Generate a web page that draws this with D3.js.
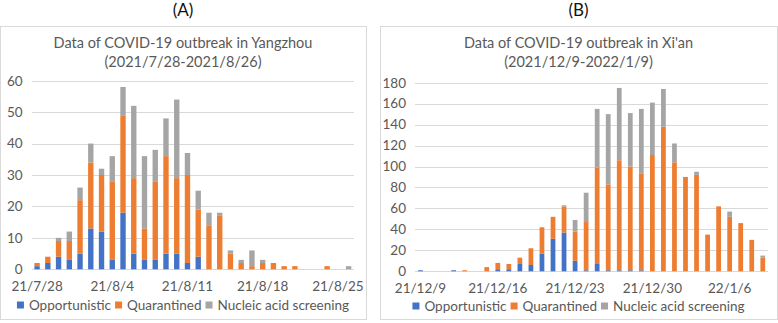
<!DOCTYPE html>
<html><head><meta charset="utf-8">
<script src="https://cdn.jsdelivr.net/npm/d3@7"></script>
<style>
html,body{margin:0;padding:0;background:#fff;}
text{font-family:Lato,"Open Sans",sans-serif;}
</style></head>
<body>
<svg id="chart" width="778" height="323"></svg>
<script>
// ---------- Data ----------
const seriesNames = ["Opportunistic", "Quarantined", "Nucleic acid screening"];
const seriesColors = ["#4472C4", "#ED7D31", "#A5A5A5"];

const datesA = ["21/7/28","21/7/29","21/7/30","21/7/31","21/8/1","21/8/2","21/8/3","21/8/4","21/8/5","21/8/6",
  "21/8/7","21/8/8","21/8/9","21/8/10","21/8/11","21/8/12","21/8/13","21/8/14","21/8/15","21/8/16",
  "21/8/17","21/8/18","21/8/19","21/8/20","21/8/21","21/8/22","21/8/23","21/8/24","21/8/25","21/8/26"];
const opportunisticA = [1,2,4,3,5,13,12,3,18,5,3,3,5,5,2,4,0,0,0,0,0,0,0,0,0,0,0,0,0,0];
const quarantinedA   = [1,2,5,6,17,21,18,25,31,24,10,25,31,24,28,15,14,17,5,2,1,2,2,1,1,0,0,1,0,0];
const nucleicA       = [0,0,1,3,4,6,2,8,9,23,23,10,12,25,7,6,4,1,1,1,5,1,0,0,0,0,0,0,0,1];
const yTicksA = [0,10,20,30,40,50,60];
const xTickLabelsA = ["21/7/28","21/8/4","21/8/11","21/8/18","21/8/25"];

const datesB = ["21/12/9","21/12/10","21/12/11","21/12/12","21/12/13","21/12/14","21/12/15","21/12/16",
  "21/12/17","21/12/18","21/12/19","21/12/20","21/12/21","21/12/22","21/12/23","21/12/24","21/12/25",
  "21/12/26","21/12/27","21/12/28","21/12/29","21/12/30","21/12/31","22/1/1","22/1/2","22/1/3","22/1/4",
  "22/1/5","22/1/6","22/1/7","22/1/8","22/1/9"];
const opportunisticB = [1,0,0,1,0,0,0,2,2,7,6,17,31,37,10,1,7,1,1,1,1,0,0,0,0,0,0,0,0,0,0,0];
const quarantinedB   = [0,0,0,0,1,0,4,6,5,6,16,25,21,25,28,46,92,82,105,99,92,111,138,104,90,92,35,62,52,46,30,13];
const nucleicB       = [0,0,0,0,0,0,0,0,0,0,0,0,0,1,11,28,56,67,69,51,62,50,36,18,0,3,0,0,5,0,0,2];
const yTicksB = [0,20,40,60,80,100,120,140,160,180];
const xTickLabelsB = ["21/12/9","21/12/16","21/12/23","21/12/30","22/1/6"];

// ---------- Drawing ----------
const svg = d3.select("#chart");
const grid = "#d9d9d9", txt = "#595959";

function panel(cfg) {
  const g = svg.append("g");
  // border
  g.append("rect").attr("x", cfg.box[0] + 0.5).attr("y", cfg.box[1] + 0.5)
    .attr("width", cfg.box[2]).attr("height", cfg.box[3])
    .attr("fill", "none").attr("stroke", grid).attr("stroke-width", 1);
  const cx = cfg.box[0] + cfg.box[2] / 2;
  // panel letter
  svg.append("text").attr("x", cx).attr("y", 10).attr("dy", "0.35em")
    .attr("text-anchor", "middle").attr("font-size", 17).attr("fill", "#111").text(cfg.letter);
  // titles
  cfg.titles.forEach((t, i) => {
    g.append("text").attr("x", cx).attr("y", 43 + i * 18.5).attr("dy", "0.35em")
      .attr("text-anchor", "middle").attr("font-size", 14.5).attr("fill", txt).text(t);
  });

  const x = d3.scaleBand().domain(cfg.dates).range([cfg.x0, cfg.x1]).paddingInner(cfg.pad).paddingOuter(cfg.pad / 2);
  const y = d3.scaleLinear().domain([0, cfg.yMax]).range([cfg.yBottom, cfg.yTop]);

  // gridlines + y labels
  const yAxis = d3.axisLeft(y).tickValues(cfg.yTicks).tickSize(-(cfg.x1 - cfg.x0)).tickPadding(9);
  const ya = g.append("g").attr("transform", `translate(${cfg.x0},0)`).call(yAxis);
  ya.select(".domain").remove();
  ya.selectAll(".tick line").attr("stroke", grid).attr("shape-rendering", "crispEdges");
  ya.selectAll(".tick text").attr("fill", txt).attr("font-size", 13.5)
    .attr("font-family", "Lato,'Open Sans',sans-serif");

  // stacked bars
  const rows = cfg.dates.map((d, i) => ({date: d, s0: cfg.series[0][i], s1: cfg.series[1][i], s2: cfg.series[2][i]}));
  const stack = d3.stack().keys(["s0", "s1", "s2"])(rows);
  g.selectAll("g.layer").data(stack).join("g").attr("class", "layer")
    .attr("fill", (d, i) => seriesColors[i])
    .selectAll("rect").data(d => d.filter(v => v[1] - v[0] > 0)).join("rect")
    .attr("x", d => x(d.data.date))
    .attr("width", x.bandwidth())
    .attr("y", d => y(d[1]))
    .attr("height", d => y(d[0]) - y(d[1]));

  // x tick labels
  const xAxis = d3.axisBottom(x).tickValues(cfg.xTicks).tickSize(0).tickPadding(12);
  const xa = g.append("g").attr("transform", `translate(0,${cfg.yBottom})`).call(xAxis);
  xa.select(".domain").remove();
  xa.selectAll(".tick text").attr("fill", txt).attr("font-size", 13.5)
    .attr("font-family", "Lato,'Open Sans',sans-serif");

  // legend
  const lg = g.append("g");
  let pos = 0;
  seriesNames.forEach((n, i) => {
    const it = lg.append("g");
    it.append("rect").attr("x", 0).attr("y", -3.5).attr("width", 7).attr("height", 7).attr("fill", seriesColors[i]);
    const t = it.append("text").attr("x", 12).attr("dy", "0.35em").attr("font-size", 13.5).attr("fill", txt).text(n);
    const w = 12 + t.node().getComputedTextLength();
    it.attr("transform", `translate(${pos},0)`);
    pos += w + 4;
  });
  const total = pos - 4;
  lg.attr("transform", `translate(${cx - total / 2},${cfg.legendY})`);
}

panel({
  letter: "(A)", box: [0, 26, 366, 293],
  titles: ["Data of COVID-19 outbreak in Yangzhou", "(2021/7/28-2021/8/26)"],
  dates: datesA, series: [opportunisticA, quarantinedA, nucleicA],
  x0: 31.7, x1: 354, pad: 0.5, yMax: 60, yTop: 80.7, yBottom: 269.3,
  yTicks: yTicksA, xTicks: xTickLabelsA, legendY: 305
});
panel({
  letter: "(B)", box: [380, 26, 397, 293],
  titles: ["Data of COVID-19 outbreak in Xi'an", "(2021/12/9-2022/1/9)"],
  dates: datesB, series: [opportunisticB, quarantinedB, nucleicB],
  x0: 415, x1: 768.3, pad: 0.57, yMax: 180, yTop: 82.7, yBottom: 271.3,
  yTicks: yTicksB, xTicks: xTickLabelsB, legendY: 306
});
</script>
</body></html>
